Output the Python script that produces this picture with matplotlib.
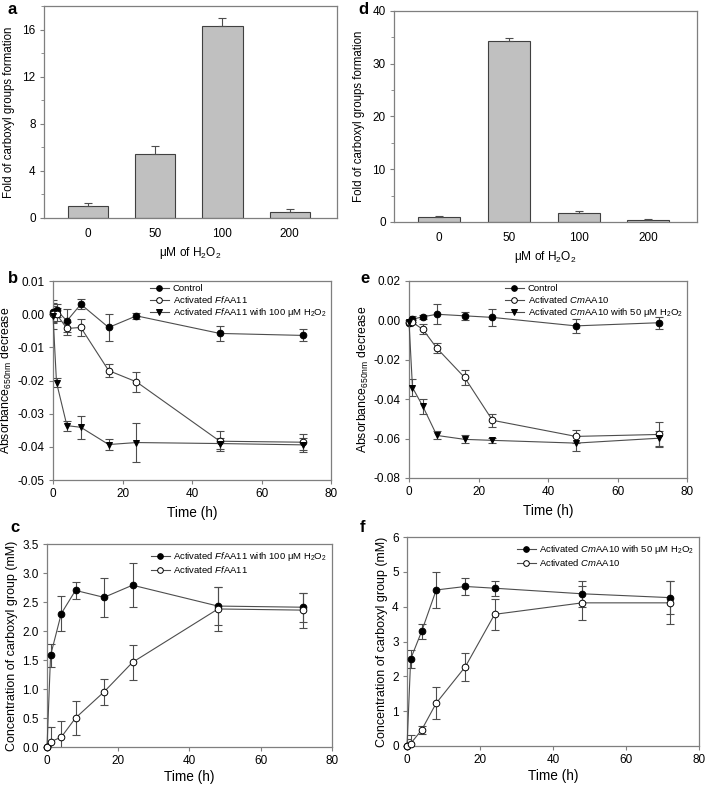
import numpy as np
import matplotlib.pyplot as plt

plt.rcParams["font.family"] = ["Liberation Sans", "DejaVu Sans"]
plt.rcParams["mathtext.fontset"] = "custom"
plt.rcParams["mathtext.rm"] = "Liberation Sans"
plt.rcParams["mathtext.it"] = "Liberation Sans:italic"

# ---- data ----
doses = ["0", "50", "100", "200"]
ff_fold = [1.0, 5.4, 16.3, 0.5]
ff_fold_err = [0.25, 0.7, 0.7, 0.3]
cm_fold = [1.0, 34.4, 1.8, 0.4]
cm_fold_err = [0.2, 0.4, 0.3, 0.2]

time_h = [0, 1, 4, 8, 16, 24, 48, 72]

# panel b: FfAA11 absorbance
b_ctrl = [0.0008, 0.0012, -0.002, 0.003, -0.004, -0.0005, -0.0058, -0.0064]
b_ctrl_err = [0.0035, 0.002, 0.0035, 0.0015, 0.0041, 0.001, 0.0023, 0.0018]
b_act = [0.0, 0.0, -0.0043, -0.004, -0.017, -0.0204, -0.0383, -0.0386]
b_act_err = [0.0025, 0.002, 0.002, 0.0027, 0.002, 0.003, 0.003, 0.0024]
b_h2o2 = [-0.0005, -0.0206, -0.0336, -0.0341, -0.0393, -0.0387, -0.039, -0.0394]
b_h2o2_err = [0.004, 0.0015, 0.0015, 0.0035, 0.0016, 0.006, 0.0016, 0.002]

# panel e: CmAA10 absorbance
e_ctrl = [-0.0011, 0.0006, 0.0018, 0.0031, 0.0023, 0.0015, -0.0028, -0.0012]
e_ctrl_err = [0.002, 0.0015, 0.001, 0.005, 0.002, 0.0044, 0.0035, 0.003]
e_act = [-0.0008, -0.001, -0.0046, -0.0141, -0.029, -0.0507, -0.0589, -0.0579]
e_act_err = [0.001, 0.001, 0.0025, 0.0027, 0.004, 0.0034, 0.0034, 0.0065]
e_h2o2 = [-0.0008, -0.0341, -0.0437, -0.0584, -0.0604, -0.0609, -0.0623, -0.0598]
e_h2o2_err = [0.001, 0.0044, 0.004, 0.002, 0.002, 0.0012, 0.0038, 0.0038]

# panel c: FfAA11 carboxyl
c_h2o2 = [0.0, 1.58, 2.3, 2.7, 2.58, 2.79, 2.43, 2.41]
c_h2o2_err = [0.35, 0.2, 0.3, 0.15, 0.33, 0.38, 0.33, 0.25]
c_act = [0.0, 0.09, 0.17, 0.5, 0.95, 1.46, 2.38, 2.36]
c_act_err = [0.0, 0.26, 0.28, 0.3, 0.23, 0.3, 0.38, 0.3]

# panel f: CmAA10 carboxyl
f_h2o2 = [0.0, 2.5, 3.29, 4.48, 4.58, 4.53, 4.37, 4.26]
f_h2o2_err = [0.2, 0.25, 0.21, 0.52, 0.24, 0.21, 0.37, 0.47]
f_act = [0.0, 0.07, 0.46, 1.23, 2.28, 3.78, 4.11, 4.11]
f_act_err = [0.0, 0.25, 0.12, 0.46, 0.4, 0.44, 0.48, 0.62]

FRAME = "#7f7f7f"
LINE = "#4d4d4d"
TICK_FS = 8.5


def style_axes(ax):
    for s in ax.spines.values():
        s.set_color(FRAME)
        s.set_linewidth(0.9)
    ax.tick_params(direction="out", length=3, width=0.8, color=FRAME,
                   labelsize=TICK_FS, pad=3)
    ax.tick_params(which="minor", direction="out", length=2, width=0.6, color=FRAME)


def bar_panel(ax, vals, errs, ymax, major, minor):
    x = np.arange(len(doses))
    ax.bar(x, vals, width=0.6, color="#c0c0c0", edgecolor="#404040", linewidth=0.8, zorder=2)
    ax.errorbar(x, vals, yerr=[np.zeros(len(errs)), errs], fmt="none",
                ecolor=LINE, elinewidth=0.8, capsize=3, capthick=0.8, zorder=3)
    ax.set_xlim(-0.65, 3.7)
    ax.set_ylim(0, ymax)
    ax.set_yticks(major)
    ax.set_yticks(minor, minor=True)
    ax.set_xticks(x)
    ax.set_xticklabels(doses)
    ax.set_xlabel("μM of H$_2$O$_2$", fontsize=8.6, labelpad=4)
    ax.set_ylabel("Fold of carboxyl groups formation", fontsize=8.3, labelpad=5)
    style_axes(ax)
    ax.tick_params(axis="x", length=0, pad=7)


def series(ax, y, err, marker, face, label):
    ax.errorbar(time_h, y, yerr=err, fmt="none", ecolor=LINE, elinewidth=0.8,
                capsize=3, capthick=0.8, zorder=2)
    ax.plot(time_h, y, "-", color=LINE, lw=0.8, marker=marker, mfc=face,
            mec="black", mew=0.7, ms=4.8, label=label, zorder=3, clip_on=False)


fig = plt.figure(figsize=(7.08, 7.85), dpi=100)

ax_a = fig.add_axes([0.0621, 0.7223, 0.4138, 0.2701])
ax_d = fig.add_axes([0.5565, 0.7172, 0.4280, 0.2688])
ax_b = fig.add_axes([0.0749, 0.3885, 0.3927, 0.2535])
ax_e = fig.add_axes([0.5777, 0.3911, 0.3927, 0.2510])
ax_c = fig.add_axes([0.0664, 0.0484, 0.4025, 0.2586])
ax_f = fig.add_axes([0.5749, 0.0497, 0.4124, 0.2662])

bar_panel(ax_a, ff_fold, ff_fold_err, 18, [0, 4, 8, 12, 16], [2, 6, 10, 14, 18])
bar_panel(ax_d, cm_fold, cm_fold_err, 40, [0, 10, 20, 30, 40], [5, 15, 25, 35])

LEG = dict(fontsize=6.8, frameon=False, handlelength=2.0, handletextpad=0.4,
           labelspacing=0.1, borderaxespad=0.15, markerscale=0.85, borderpad=0.2)

# absorbance panels
for ax, ctrl, ce, act, ae, h, he, name, conc, ylim, yt in [
    (ax_b, b_ctrl, b_ctrl_err, b_act, b_act_err, b_h2o2, b_h2o2_err, "Ff", 100,
     (-0.05, 0.01), np.arange(-0.05, 0.0101, 0.01)),
    (ax_e, e_ctrl, e_ctrl_err, e_act, e_act_err, e_h2o2, e_h2o2_err, "Cm", 50,
     (-0.08, 0.02), np.arange(-0.08, 0.0201, 0.02)),
]:
    protein = "AA11" if name == "Ff" else "AA10"
    series(ax, ctrl, ce, "o", "black", "Control")
    series(ax, act, ae, "o", "white", f"Activated $\\mathit{{{name}}}$" + protein)
    series(ax, h, he, "v", "black",
           f"Activated $\\mathit{{{name}}}$" + protein + f" with {conc} μM H$_2$O$_2$")
    ax.set_xlim(0, 80)
    ax.set_ylim(*ylim)
    ax.set_xticks([0, 20, 40, 60, 80])
    ax.set_yticks(yt)
    ax.set_yticklabels([f"{v:.2f}".replace("-0.00", "0.00") for v in yt])
    ax.set_xlabel("Time (h)", fontsize=9.8, labelpad=4)
    ax.set_ylabel("Absorbance$_{\\mathrm{650nm}}$ decrease", fontsize=8.8, labelpad=2)
    style_axes(ax)
    ax.legend(loc="upper right", bbox_to_anchor=(0.995, 1.0), **LEG)

ax_b.yaxis.set_label_coords(-0.14, 0.5)

# carboxyl panels
for ax, h, he, act, ae, name, conc, ymax, yt, fmt in [
    (ax_c, c_h2o2, c_h2o2_err, c_act, c_act_err, "Ff", 100, 3.5,
     np.arange(0, 3.51, 0.5), "{:.1f}"),
    (ax_f, f_h2o2, f_h2o2_err, f_act, f_act_err, "Cm", 50, 6,
     np.arange(0, 6.1, 1), "{:.0f}"),
]:
    protein = "AA11" if name == "Ff" else "AA10"
    series(ax, h, he, "o", "black",
           f"Activated $\\mathit{{{name}}}$" + protein + f" with {conc} μM H$_2$O$_2$")
    series(ax, act, ae, "o", "white", f"Activated $\\mathit{{{name}}}$" + protein)
    ax.set_xlim(0, 80)
    ax.set_ylim(0, ymax)
    ax.set_xticks([0, 20, 40, 60, 80])
    ax.set_yticks(yt)
    ax.set_yticklabels([fmt.format(v) for v in yt])
    ax.set_xlabel("Time (h)", fontsize=9.8, labelpad=2)
    ax.set_ylabel("Concentration of carboxyl group (mM)", fontsize=9.0, labelpad=3)
    style_axes(ax)
    ax.legend(loc="upper right", bbox_to_anchor=(0.995, 0.985), **LEG)

# panel letters
for txt, x, y in [("a", 8, 9), ("d", 358, 9), ("b", 8, 279), ("e", 360, 279),
                  ("c", 10, 528), ("f", 360, 527)]:
    fig.text(x / 708, 1 - y / 785, txt, fontsize=12, fontweight="bold", va="center")

fig.savefig("out.png", dpi=100)
